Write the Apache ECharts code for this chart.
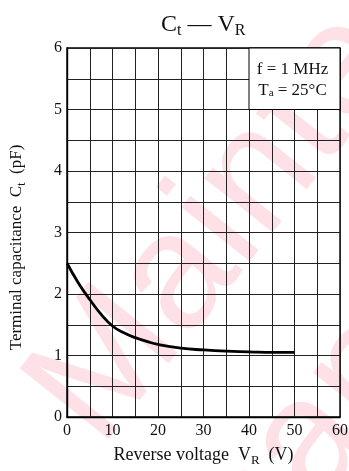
<!DOCTYPE html>
<html>
<head>
<meta charset="utf-8">
<script src="https://cdn.jsdelivr.net/npm/echarts@6/dist/echarts.min.js"></script>
<style>
  html, body { margin: 0; padding: 0; background: #fff; }
  #main { width: 349px; height: 471px; }
</style>
</head>
<body>
<div id="main"></div>
<script>
// reverse voltage (V) and terminal capacitance (pF)
var voltage = [0, 2.5, 5, 7.5, 10, 12.5, 15, 17.5, 20, 25, 30, 35, 40, 45, 50];
var capacitance = [2.50, 2.18, 1.91, 1.67, 1.48, 1.37, 1.29, 1.23, 1.18, 1.12, 1.09, 1.07, 1.06, 1.05, 1.05];
var xTicks = [0, 10, 20, 30, 40, 50, 60];
var yTicks = [0, 1, 2, 3, 4, 5, 6];
// blank box holding the conditions (top right corner)
var noteBox = [[40, 5], [60, 6]];

var serif = '"Liberation Serif", "DejaVu Serif", serif';
var sans = '"Liberation Sans", Arial, sans-serif';

var chartDom = document.getElementById('main');
var myChart = echarts.init(chartDom);

var points = [];
for (var i = 0; i < voltage.length; i++) {
  points.push([voltage[i], capacitance[i]]);
}

var option = {
  animation: false,
  backgroundColor: '#fff',
  title: {
    text: 'C{sub|t} — V{sub|R}',
    left: 156,
    top: 5,
    textStyle: {
      fontFamily: serif,
      fontSize: 24,
      fontWeight: 'normal',
      color: '#111',
      rich: {
        sub: { fontFamily: serif, fontSize: 16, color: '#111', padding: [13, 0, 0, 0] }
      }
    }
  },
  // the pale watermark behind the chart
  graphic: [
    {
      type: 'text',
      z: -10,
      silent: true,
      x: 0,
      y: 370,
      rotation: 0.9,
      style: { text: 'Mainte', fontFamily: sans, fontSize: 165, fill: '#fde1e6' }
    },
    {
      type: 'text',
      z: -10,
      silent: true,
      x: 160,
      y: 500,
      rotation: 0.9,
      style: { text: 'nance', fontFamily: sans, fontSize: 165, fill: '#fde1e6' }
    }
  ],
  grid: {
    left: 67,
    right: 9,
    top: 48,
    bottom: 54,
    outerBoundsMode: 'none',
    show: true,
    borderColor: '#000',
    borderWidth: 1.4,
    backgroundColor: 'transparent'
  },
  xAxis: {
    type: 'value',
    min: 0,
    max: 60,
    interval: 5,
    name: 'Reverse voltage  V{sub|R}  (V)',
    nameLocation: 'middle',
    nameGap: 26,
    nameTextStyle: {
      fontFamily: serif,
      fontSize: 18,
      color: '#111',
      rich: {
        sub: { fontFamily: serif, fontSize: 13, color: '#111', padding: [11, 0, 0, 0] }
      }
    },
    axisLine: { lineStyle: { color: '#000', width: 1.4 } },
    axisTick: { show: false },
    axisLabel: {
      fontFamily: serif,
      fontSize: 16,
      color: '#111',
      margin: 6,
      formatter: function (v) { return xTicks.indexOf(v) >= 0 ? String(v) : ''; }
    },
    splitLine: { lineStyle: { color: '#222', width: 1 } }
  },
  yAxis: {
    type: 'value',
    min: 0,
    max: 6,
    interval: 0.5,
    name: 'Terminal capacitance  C{sub|t}  (pF)',
    nameLocation: 'middle',
    nameGap: 39,
    nameTextStyle: {
      fontFamily: serif,
      fontSize: 17,
      color: '#111',
      padding: [0, 30, 0, 0],
      rich: {
        sub: { fontFamily: serif, fontSize: 12, color: '#111', padding: [10, 0, 0, 0] }
      }
    },
    axisLine: { show: true, lineStyle: { color: '#000', width: 1.4 } },
    axisTick: { show: false },
    axisLabel: {
      fontFamily: serif,
      fontSize: 16,
      color: '#111',
      margin: 5,
      formatter: function (v) { return yTicks.indexOf(v) >= 0 ? String(v) : ''; }
    },
    splitLine: { lineStyle: { color: '#222', width: 1 } }
  },
  series: [
    {
      type: 'line',
      data: points,
      smooth: true,
      showSymbol: false,
      lineStyle: { color: '#000', width: 2.8 },
      markArea: {
        silent: true,
        itemStyle: { color: '#fff', borderColor: '#000', borderWidth: 1 },
        label: {
          show: true,
          position: 'inside',
          offset: [-2, 1],
          fontFamily: serif,
          fontSize: 17,
          lineHeight: 21,
          color: '#111',
          formatter: 'f = 1 MHz\nT{sub|a} = 25°C',
          rich: {
            sub: { fontFamily: serif, fontSize: 11, color: '#111', padding: [6, 0, 0, 0] }
          }
        },
        data: [[{ coord: noteBox[0] }, { coord: noteBox[1] }]]
      }
    }
  ]
};

myChart.setOption(option);
</script>
</body>
</html>
